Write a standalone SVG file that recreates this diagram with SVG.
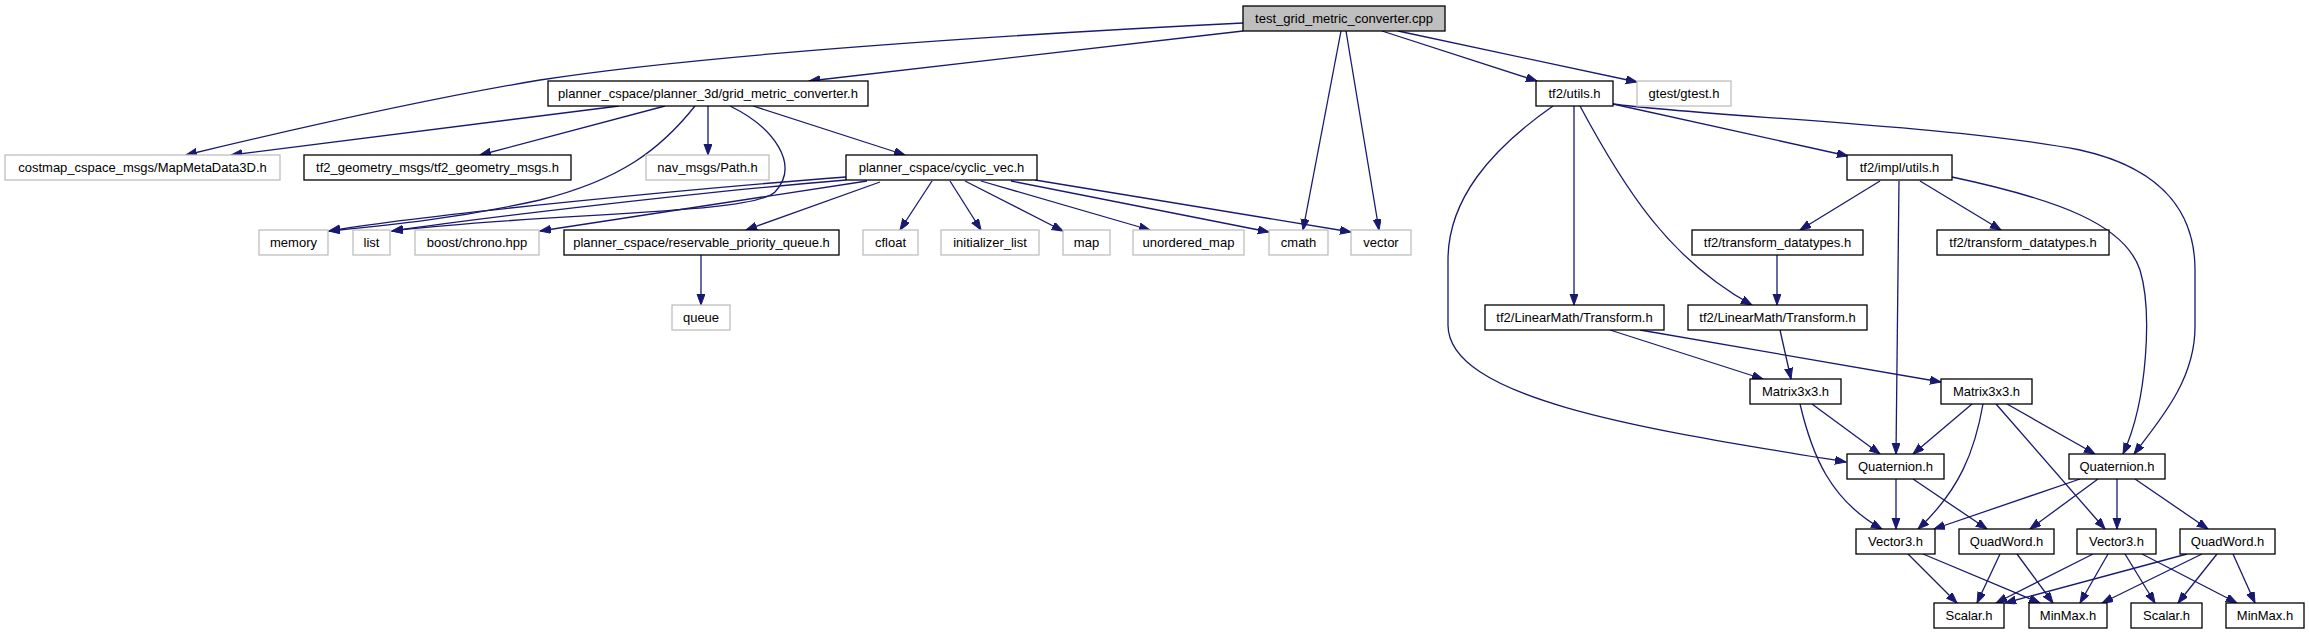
<svg xmlns="http://www.w3.org/2000/svg" width="2309" height="635" viewBox="0 0 2309 635">
<defs>
<marker id="ah" markerUnits="userSpaceOnUse" markerWidth="12" markerHeight="9" refX="11" refY="4" orient="auto">
<path d="M0,0 L11,4 L0,8 z" fill="#191970" stroke="#191970" stroke-width="1"/>
</marker>
</defs>
<style>
.n rect{fill:#fff;stroke:#000;stroke-width:1.3}
.n.u rect{stroke:#bfbfbf}
.n.r rect{fill:#bfbfbf;stroke:#000}
.n text{font-family:"Liberation Sans",Arial,sans-serif;font-size:13px;fill:#000;text-anchor:middle}
#edges path{fill:none;stroke:#191970;stroke-width:1.3;marker-end:url(#ah)}
</style>
<rect width="2309" height="635" fill="#fff"/>
<g id="edges">
<path d="M1243,23 C1000,35 700,55 540,80 C420,100 290,130 186,155"/>
<path d="M1243,31 L809,81"/>
<path d="M1341,31 L1303,230"/>
<path d="M1346,31 L1379,230"/>
<path d="M1382,31 L1537,81"/>
<path d="M1398,31 L1637,82"/>
<path d="M619,106 L231,155"/>
<path d="M665,106 L480,155"/>
<path d="M695,106 C660,150 620,180 540,200 C450,220 380,226 329,231"/>
<path d="M708,106 L708,155"/>
<path d="M730,106 C775,128 800,165 775,192 C750,215 550,212 392,231"/>
<path d="M753,106 L905,155"/>
<path d="M846,177 C700,188 420,215 329,231"/>
<path d="M846,180 C700,192 480,218 392,231"/>
<path d="M867,181 L540,231"/>
<path d="M880,182 L746,230"/>
<path d="M932,181 L900,230"/>
<path d="M950,181 L981,230"/>
<path d="M965,181 L1063,231"/>
<path d="M981,181 L1150,230"/>
<path d="M1011,181 L1269,232"/>
<path d="M1035,180 L1351,232"/>
<path d="M701,255 L701,305"/>
<path d="M1553,106 C1490,150 1448,200 1448,260 L1448,325 C1448,400 1650,430 1846,462"/>
<path d="M1574,106 L1574,305"/>
<path d="M1580,106 C1625,190 1670,260 1752,305"/>
<path d="M1613,104 L1848,156"/>
<path d="M1613,104 C1700,116 1950,125 2080,150 C2170,170 2195,220 2195,270 L2195,327 C2195,380 2160,420 2134,454"/>
<path d="M1880,181 L1800,230"/>
<path d="M1920,181 L2001,230"/>
<path d="M1899,181 L1896,454"/>
<path d="M1952,177 C2060,200 2125,225 2140,270 C2152,310 2148,400 2123,454"/>
<path d="M1777,255 L1777,305"/>
<path d="M1610,330 L1763,379"/>
<path d="M1640,330 L1941,382"/>
<path d="M1780,330 L1791,379"/>
<path d="M1812,404 L1880,454"/>
<path d="M1800,404 C1812,455 1830,500 1882,529"/>
<path d="M1972,404 L1913,454"/>
<path d="M1983,404 C1975,450 1960,490 1918,529"/>
<path d="M1996,404 L2105,529"/>
<path d="M2007,404 L2095,454"/>
<path d="M1896,479 L1896,529"/>
<path d="M1913,479 L1987,529"/>
<path d="M2080,479 L1934,529"/>
<path d="M2098,479 L2030,529"/>
<path d="M2117,479 L2117,529"/>
<path d="M2135,479 L2208,529"/>
<path d="M1908,554 L1957,603"/>
<path d="M1923,554 L2040,603"/>
<path d="M2000,554 L1977,603"/>
<path d="M2017,554 L2053,603"/>
<path d="M2093,554 L1996,603"/>
<path d="M2108,554 L2080,603"/>
<path d="M2125,554 L2155,603"/>
<path d="M2142,554 L2237,603"/>
<path d="M2187,554 L2005,603"/>
<path d="M2202,554 L2102,603"/>
<path d="M2217,554 L2178,603"/>
<path d="M2233,554 L2255,603"/>
</g>
<g id="n_root" class="n r"><rect x="1243" y="6" width="202" height="25"/><text x="1344" y="23">test_grid_metric_converter.cpp</text></g>
<g id="n_gmc" class="n"><rect x="548" y="81" width="320" height="25"/><text x="708" y="98">planner_cspace/planner_3d/grid_metric_converter.h</text></g>
<g id="n_meta" class="n u"><rect x="5" y="155" width="275" height="25"/><text x="142.5" y="172">costmap_cspace_msgs/MapMetaData3D.h</text></g>
<g id="n_tf2gm" class="n"><rect x="304" y="155" width="267" height="25"/><text x="437.5" y="172">tf2_geometry_msgs/tf2_geometry_msgs.h</text></g>
<g id="n_path" class="n u"><rect x="646" y="155" width="123" height="25"/><text x="707.5" y="172">nav_msgs/Path.h</text></g>
<g id="n_cyc" class="n"><rect x="846" y="155" width="191" height="25"/><text x="941.5" y="172">planner_cspace/cyclic_vec.h</text></g>
<g id="n_memory" class="n u"><rect x="259" y="230" width="69" height="25"/><text x="293.5" y="247">memory</text></g>
<g id="n_list" class="n u"><rect x="353" y="230" width="37" height="25"/><text x="371.5" y="247">list</text></g>
<g id="n_chrono" class="n u"><rect x="415" y="230" width="124" height="25"/><text x="477" y="247">boost/chrono.hpp</text></g>
<g id="n_rpq" class="n"><rect x="564" y="230" width="275" height="25"/><text x="701.5" y="247">planner_cspace/reservable_priority_queue.h</text></g>
<g id="n_cfloat" class="n u"><rect x="863" y="230" width="55" height="25"/><text x="890.5" y="247">cfloat</text></g>
<g id="n_init" class="n u"><rect x="941" y="230" width="98" height="25"/><text x="990" y="247">initializer_list</text></g>
<g id="n_map" class="n u"><rect x="1063" y="230" width="47" height="25"/><text x="1086.5" y="247">map</text></g>
<g id="n_umap" class="n u"><rect x="1133" y="230" width="111" height="25"/><text x="1188.5" y="247">unordered_map</text></g>
<g id="n_cmath" class="n u"><rect x="1269" y="230" width="59" height="25"/><text x="1298.5" y="247">cmath</text></g>
<g id="n_vector" class="n u"><rect x="1351" y="230" width="60" height="25"/><text x="1381" y="247">vector</text></g>
<g id="n_queue" class="n u"><rect x="672" y="305" width="58" height="25"/><text x="701" y="322">queue</text></g>
<g id="n_utils" class="n"><rect x="1536" y="81" width="77" height="25"/><text x="1574.5" y="98">tf2/utils.h</text></g>
<g id="n_gtest" class="n u"><rect x="1637" y="81" width="94" height="25"/><text x="1684" y="98">gtest/gtest.h</text></g>
<g id="n_impl" class="n"><rect x="1847" y="155" width="105" height="25"/><text x="1899.5" y="172">tf2/impl/utils.h</text></g>
<g id="n_td1" class="n"><rect x="1692" y="230" width="171" height="25"/><text x="1777.5" y="247">tf2/transform_datatypes.h</text></g>
<g id="n_td2" class="n"><rect x="1937" y="230" width="172" height="25"/><text x="2023" y="247">tf2/transform_datatypes.h</text></g>
<g id="n_lt1" class="n"><rect x="1485" y="305" width="179" height="25"/><text x="1574.5" y="322">tf2/LinearMath/Transform.h</text></g>
<g id="n_lt2" class="n"><rect x="1688" y="305" width="179" height="25"/><text x="1777.5" y="322">tf2/LinearMath/Transform.h</text></g>
<g id="n_m1" class="n"><rect x="1750" y="379" width="91" height="25"/><text x="1795.5" y="396">Matrix3x3.h</text></g>
<g id="n_m2" class="n"><rect x="1941" y="379" width="91" height="25"/><text x="1986.5" y="396">Matrix3x3.h</text></g>
<g id="n_q1" class="n"><rect x="1847" y="454" width="97" height="25"/><text x="1895.5" y="471">Quaternion.h</text></g>
<g id="n_q2" class="n"><rect x="2069" y="454" width="96" height="25"/><text x="2117" y="471">Quaternion.h</text></g>
<g id="n_v1" class="n"><rect x="1856" y="529" width="79" height="25"/><text x="1895.5" y="546">Vector3.h</text></g>
<g id="n_qw1" class="n"><rect x="1959" y="529" width="95" height="25"/><text x="2006.5" y="546">QuadWord.h</text></g>
<g id="n_v2" class="n"><rect x="2077" y="529" width="79" height="25"/><text x="2116.5" y="546">Vector3.h</text></g>
<g id="n_qw2" class="n"><rect x="2180" y="529" width="95" height="25"/><text x="2227.5" y="546">QuadWord.h</text></g>
<g id="n_s1" class="n"><rect x="1934" y="603" width="70" height="25"/><text x="1969" y="620">Scalar.h</text></g>
<g id="n_mm1" class="n"><rect x="2029" y="603" width="78" height="25"/><text x="2068" y="620">MinMax.h</text></g>
<g id="n_s2" class="n"><rect x="2131" y="603" width="71" height="25"/><text x="2166.5" y="620">Scalar.h</text></g>
<g id="n_mm2" class="n"><rect x="2226" y="603" width="78" height="25"/><text x="2265" y="620">MinMax.h</text></g>
</svg>
